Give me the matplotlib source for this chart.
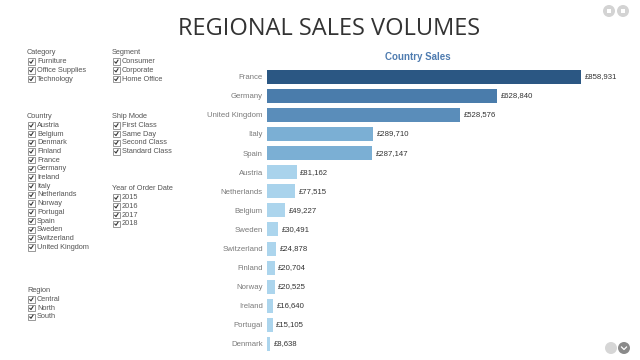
import matplotlib
matplotlib.use("Agg")
import matplotlib.pyplot as plt
from matplotlib.patches import Rectangle, Ellipse
from matplotlib.lines import Line2D

# ---- data ----
countries = ["France", "Germany", "United Kingdom", "Italy", "Spain", "Austria",
             "Netherlands", "Belgium", "Sweden", "Switzerland", "Finland",
             "Norway", "Ireland", "Portugal", "Denmark"]
sales = [858931, 628840, 528576, 289710, 287147, 81162, 77515, 49227, 30491,
         24878, 20704, 20525, 16640, 15105, 8638]
bar_colors = ["#2b5783", "#4a7cab", "#5a8dba", "#7bafd4", "#7bafd4", "#a9d3ec",
              "#a9d3ec", "#acd5ed", "#acd5ed", "#acd5ed", "#acd5ed", "#acd5ed",
              "#acd5ed", "#acd5ed", "#acd5ed"]

title = "REGIONAL SALES VOLUMES"
chart_title = "Country Sales"

category_items = ["Furniture", "Office Supplies", "Technology"]
segment_items = ["Consumer", "Corporate", "Home Office"]
country_items = ["Austria", "Belgium", "Denmark", "Finland", "France", "Germany",
                 "Ireland", "Italy", "Netherlands", "Norway", "Portugal", "Spain",
                 "Sweden", "Switzerland", "United Kingdom"]
shipmode_items = ["First Class", "Same Day", "Second Class", "Standard Class"]
year_items = ["2015", "2016", "2017", "2018"]
region_items = ["Central", "North", "South"]

W, H = 640, 360
fig = plt.figure(figsize=(W / 100, H / 100), dpi=100)
fig.patch.set_facecolor("white")

def fx(x):
    return x / W

def fy(y):
    return 1 - y / H

# ---- title ----
fig.text(fx(329), fy(35), title, ha="center", va="baseline",
         fontsize=17, color="#333333", family="Open Sans")

# ---- bar chart ----
unit = (344 - 76.7) / 14
top = 76.7 - 0.5 * unit
bottom = 344 + 0.5 * unit
left_px, right_px = 267, 581
ax = fig.add_axes([fx(left_px), fy(bottom), (right_px - left_px) / W, (bottom - top) / H])
ax.set_facecolor("none")
ypos = list(range(len(countries)))
ax.barh(ypos, sales, height=0.73, color=bar_colors, edgecolor="none")
ax.set_xlim(0, max(sales))
ax.set_ylim(len(countries) - 0.5, -0.5)
ax.set_xticks([])
ax.set_yticks(ypos)
ax.set_yticklabels(countries, fontsize=5.6, color="#7a7a7a", family="Liberation Sans")
ax.tick_params(axis="y", length=0, pad=3)
for s in ax.spines.values():
    s.set_visible(False)
for y, v in zip(ypos, sales):
    ax.annotate(f"£{v:,}", (v, y), xytext=(2.5, 0), textcoords="offset points",
                ha="left", va="center", fontsize=5.6, color="#333333",
                family="Liberation Sans", annotation_clip=False)

fig.text(fx(418), fy(57), chart_title, ha="center", va="center", fontsize=7,
         fontweight="bold", color="#4f7cb0", family="Liberation Sans")

# ---- filter panels ----
def panel(x, y, header, items, step=8.7):
    fig.text(fx(x), fy(y), header, ha="left", va="center", fontsize=5.3,
             color="#555555", family="Liberation Sans")
    for i, it in enumerate(items):
        yy = y + step * (i + 1)
        bx = x + 1
        fig.patches.append(Rectangle((fx(bx), fy(yy + 3.3)), 6.6 / W, 6.6 / H,
                                     transform=fig.transFigure, facecolor="white",
                                     edgecolor="#888888", linewidth=0.6))
        fig.lines.append(Line2D([fx(bx + 1.8), fx(bx + 3.0), fx(bx + 5.0)],
                                [fy(yy + 0.2), fy(yy + 1.5), fy(yy - 1.6)],
                                transform=fig.transFigure, color="#333333", linewidth=0.8))
        fig.text(fx(x + 10), fy(yy), it, ha="left", va="center", fontsize=5.3,
                 color="#555555", family="Liberation Sans")

panel(27, 53, "Category", category_items)
panel(112, 53, "Segment", segment_items)
panel(27, 116.7, "Country", country_items)
panel(112, 116.7, "Ship Mode", shipmode_items)
panel(112, 189, "Year of Order Date", year_items)
panel(27, 290.7, "Region", region_items)

# ---- decorative icons ----
for cx, cy, c in [(609, 11, "#d3d3d3"), (623, 11, "#d3d3d3"),
                  (611, 348, "#d6d6d6"), (624, 348, "#8a8a8a")]:
    fig.patches.append(Ellipse((fx(cx), fy(cy)), 12 / W, 12 / H, transform=fig.transFigure,
                               facecolor=c, edgecolor="none"))
for cx in (609, 623):
    fig.patches.append(Rectangle((fx(cx - 2), fy(13)), 4 / W, 4 / H,
                                 transform=fig.transFigure, facecolor="white",
                                 edgecolor="none"))
fig.lines.append(Line2D([fx(621.5), fx(624), fx(626.5)], [fy(347), fy(349.5), fy(347)],
                        transform=fig.transFigure, color="white", linewidth=0.9))

fig.savefig("out.png", dpi=100, facecolor=fig.get_facecolor())
